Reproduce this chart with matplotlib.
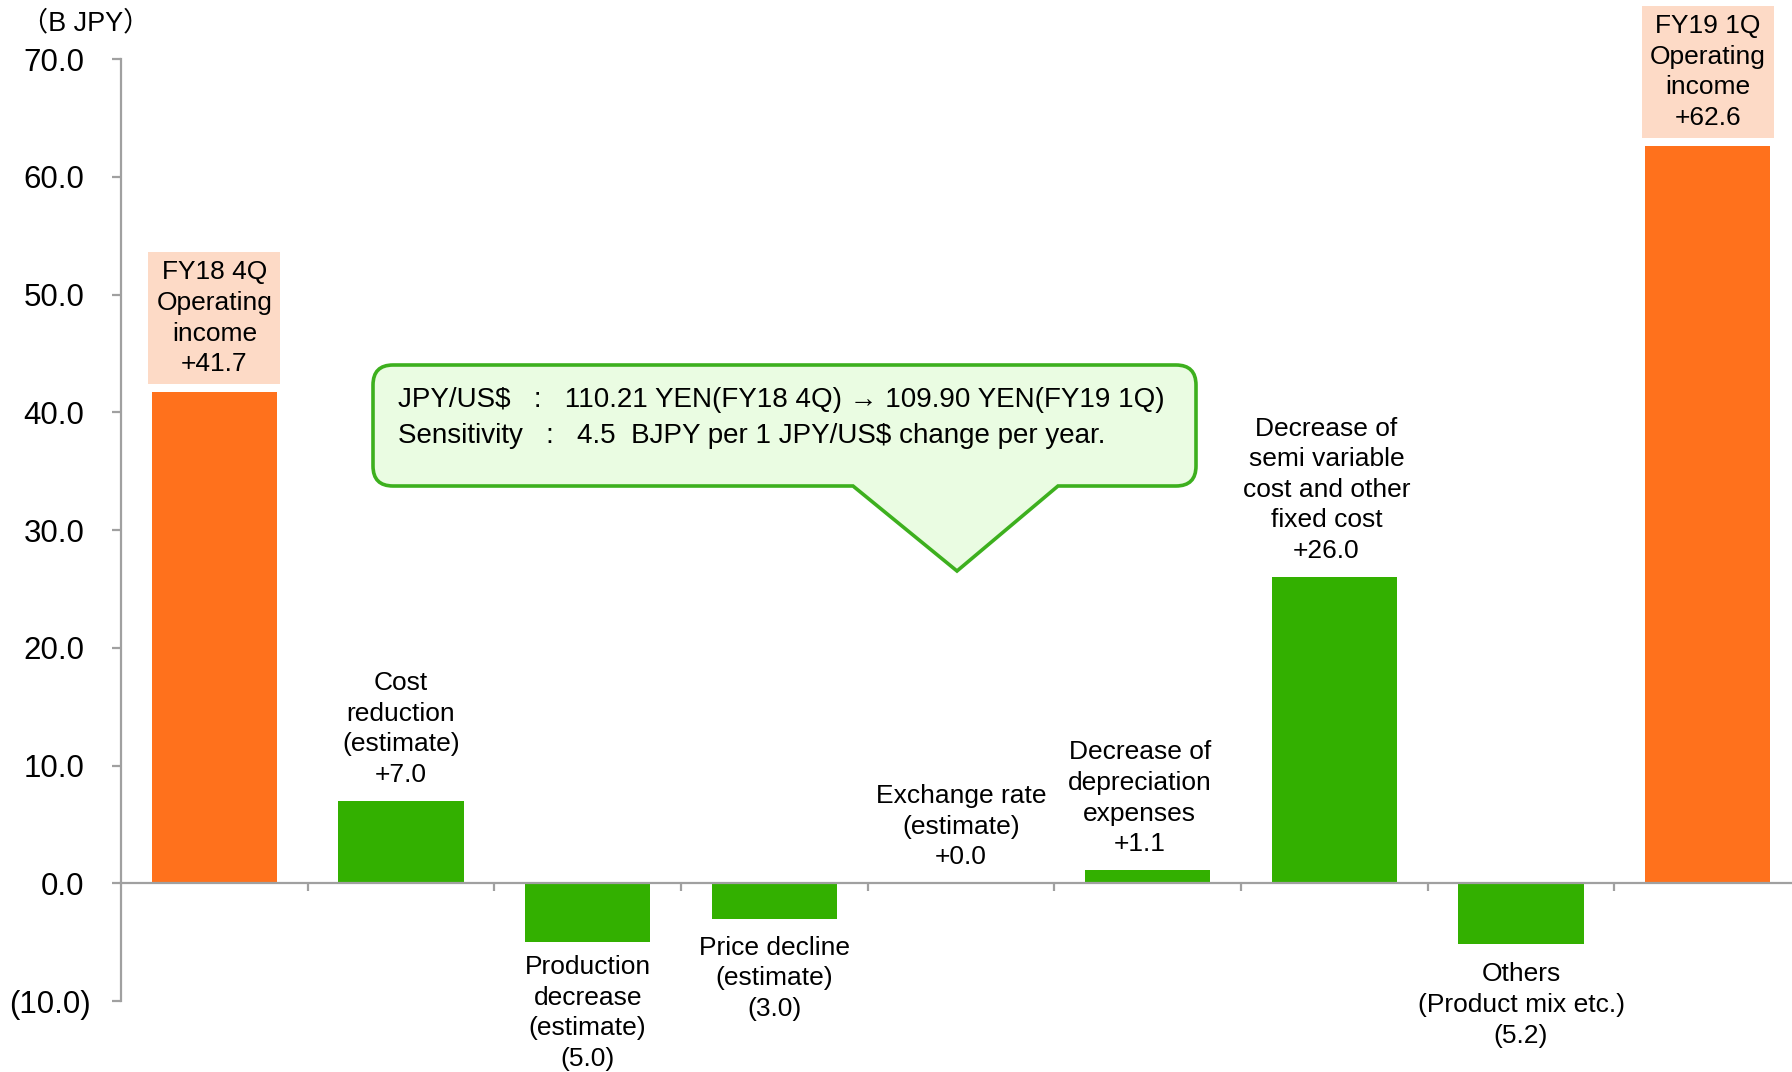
import matplotlib
matplotlib.use("Agg")
import matplotlib.pyplot as plt
import matplotlib.transforms as mtransforms
from matplotlib.path import Path
from matplotlib.patches import PathPatch

plt.rcParams['font.family'] = ['Liberation Sans', 'DejaVu Sans', 'Noto Sans CJK JP']

# Operating income bridge, FY18 4Q -> FY19 1Q (billion JPY)
categories = [
    "FY18 4Q\nOperating\nincome",
    "Cost\nreduction\n(estimate)",
    "Production\ndecrease\n(estimate)",
    "Price decline\n(estimate)",
    "Exchange rate\n(estimate)",
    "Decrease of\ndepreciation\nexpenses",
    "Decrease of\nsemi variable\ncost and other\nfixed cost",
    "Others\n(Product mix etc.)",
    "FY19 1Q\nOperating\nincome",
]
values = [41.7, 7.0, -5.0, -3.0, 0.0, 1.1, 26.0, -5.2, 62.6]
is_total = [True, False, False, False, False, False, False, False, True]
yticks = [-10, 0, 10, 20, 30, 40, 50, 60, 70]
ytick_labels = ["(10.0)", "0.0", "10.0", "20.0", "30.0", "40.0", "50.0", "60.0", "70.0"]
unit_label = "（B JPY）"
callout_lines = [
    "JPY/US$   :   110.21 YEN(FY18 4Q) \u2192 109.90 YEN(FY19 1Q)",
    "Sensitivity   :   4.5  BJPY per 1 JPY/US$ change per year.",
]

ORANGE = "#FF711C"
GREEN = "#33B000"
PEACH = "#FDDAC6"
AXIS_GRAY = "#A0A0A0"
LABEL_SIZE = 19

W, H = 1792, 1072
fig = plt.figure(figsize=(W / 100, H / 100), dpi=100)
# axes spans x 121..1801 px and y 59..1001 px (from top)
ax = fig.add_axes([121 / W, 1 - 1001 / H, (1801 - 121) / W, (1001 - 59) / H])

x = list(range(len(values)))
colors = [ORANGE if t else GREEN for t in is_total]
ax.bar(x, values, width=0.67, color=colors, zorder=2)

ax.set_xlim(-0.5, len(values) - 0.5)
ax.set_ylim(-10, 70)

# spines
for s in ("top", "right"):
    ax.spines[s].set_visible(False)
ax.spines["left"].set_color(AXIS_GRAY)
ax.spines["left"].set_linewidth(1.6)
ax.spines["bottom"].set_position(("data", 0))
ax.spines["bottom"].set_color(AXIS_GRAY)
ax.spines["bottom"].set_linewidth(1.6)

ax.set_yticks(yticks)
ax.set_yticklabels(ytick_labels)
ax.tick_params(axis="y", direction="out", length=6.5, width=1.6, color=AXIS_GRAY,
               labelsize=22.5, pad=20)
# negative numbers in accounting format: closing parenthesis hangs past the digits
for lbl in ax.get_yticklabels():
    if lbl.get_text().startswith("("):
        lbl.set_transform(lbl.get_transform() +
                          mtransforms.ScaledTranslation(7 / 100, 0, fig.dpi_scale_trans))
ax.set_xticks([i + 0.5 for i in range(len(values) - 1)])
ax.set_xticklabels([])
ax.tick_params(axis="x", direction="out", length=6, width=1.6, color=AXIS_GRAY)

# value labels
x_shift = [0, 0, 0, 0, 0, -8, -8, 0, 0]
neg_off = [0, 0, -13, -17, 0, 0, 0, -18, 0]
for i, (cat, v, tot) in enumerate(zip(categories, values, is_total)):
    vs = f"+{v:.1f}" if v >= 0 else f"({abs(v):.1f})"
    txt = cat + "\n" + vs
    if v >= 0:
        off, va = (14 if not tot else 16), "bottom"
    else:
        off, va = neg_off[i], "top"
    kw = {}
    if tot:
        kw["bbox"] = dict(boxstyle="square,pad=0.3", facecolor=PEACH, edgecolor="none")
    ax.annotate(txt, xy=(i, v), xytext=(x_shift[i], off), textcoords="offset pixels",
                ha="center", va=va, multialignment="center", fontsize=LABEL_SIZE,
                linespacing=1.35, color="black", zorder=3, **kw)

# unit label
fig.text(86 / W, 1 - 23 / H, unit_label, ha="center", va="center", fontsize=19.5,
         family=["Liberation Sans", "Noto Sans CJK JP"])

# callout box with pointer (pixel coordinates from top-left)
L, R, T, B, r = 373, 1196, 365, 486, 20
bx0, bx1, tip = 853, 1058, (957, 571)


def P(px, py):
    return (px / W, 1 - py / H)


verts = [P(L + r, T), P(R - r, T), P(R, T), P(R, T + r), P(R, B - r), P(R, B), P(R - r, B),
         P(bx1, B), P(*tip), P(bx0, B),
         P(L + r, B), P(L, B), P(L, B - r), P(L, T + r), P(L, T), P(L + r, T), P(L + r, T)]
codes = [Path.MOVETO, Path.LINETO, Path.CURVE3, Path.CURVE3, Path.LINETO, Path.CURVE3, Path.CURVE3,
         Path.LINETO, Path.LINETO, Path.LINETO,
         Path.LINETO, Path.CURVE3, Path.CURVE3, Path.LINETO, Path.CURVE3, Path.CURVE3, Path.CLOSEPOLY]
patch = PathPatch(Path(verts, codes), facecolor="#EAFCE2", edgecolor="#3DB01E",
                  linewidth=2.6, transform=fig.transFigure, zorder=5)
fig.patches.append(patch)

fig.text(398 / W, 1 - 400 / H, callout_lines[0], ha="left", va="center", fontsize=20,
         zorder=6)
fig.text(398 / W, 1 - 436 / H, callout_lines[1], ha="left", va="center", fontsize=20,
         zorder=6)

fig.savefig("out.png", dpi=100)
